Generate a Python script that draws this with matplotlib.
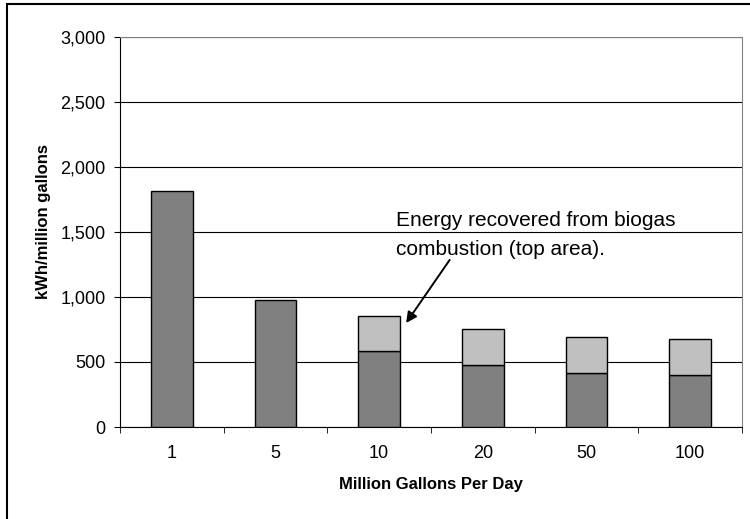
import numpy as np
import matplotlib.pyplot as plt

# Treatment plant size vs. electricity use
categories = ['1', '5', '10', '20', '50', '100']
net_use = [1815, 979, 585, 479, 413, 400]
recovered = [0, 0, 271, 272, 282, 275]

plt.rcParams['font.family'] = ['Liberation Sans', 'DejaVu Sans']

fig = plt.figure(figsize=(7.5, 5.19), dpi=100)
ax = fig.add_axes([120 / 750, 1 - 427 / 519, 622 / 750, 390 / 519])

x = np.arange(len(categories))
net_use = np.array(net_use)
recovered = np.array(recovered)
ax.bar(x, net_use, width=0.405, color='#808080', edgecolor='black', linewidth=1, zorder=3)
has_top = recovered > 0
ax.bar(x[has_top], recovered[has_top], bottom=net_use[has_top],
       width=0.405, color='#C0C0C0', edgecolor='black', linewidth=1, zorder=3)

ax.set_xlim(-0.5, len(categories) - 0.5)
ax.set_ylim(0, 3000)
yt = np.arange(0, 3001, 500)
ax.set_yticks(yt)
ax.set_yticklabels([f'{v:,}' for v in yt], fontsize=13)
ax.set_xticks(x)
ax.set_xticklabels(categories, fontsize=13)
ax.tick_params(axis='x', which='major', length=0, pad=13)
ax.set_xticks(np.arange(-0.5, len(categories), 1), minor=True)
ax.tick_params(axis='x', which='minor', length=4, direction='out', color='black')
ax.tick_params(axis='y', length=4, direction='out', color='black', pad=6.5)

ax.yaxis.grid(True, color='black', linewidth=0.8, zorder=0)
ax.spines['top'].set_color('#808080')
ax.spines['right'].set_color('#808080')
ax.spines['left'].set_color('black')
ax.spines['bottom'].set_color('black')

ax.set_ylabel('kWh/million gallons', fontsize=12, fontweight='bold')
ax.yaxis.set_label_coords(-0.111, 0.528)
ax.set_xlabel('Million Gallons Per Day', fontsize=12, fontweight='bold', labelpad=11)

# note text: the baseline of its last line sits at y
ax.text(2.162, 1323, 'Energy recovered from biogas\ncombustion (top area).',
        fontsize=15, va='baseline', ha='left', linespacing=1.65, zorder=4)
ax.annotate('', xy=(2.26, 800), xytext=(2.68, 1285),
            arrowprops=dict(arrowstyle='-|>', color='black', lw=1.4,
                            mutation_scale=16, shrinkA=0, shrinkB=0),
            zorder=4)

# outer chart frame
frame = plt.Rectangle((7 / 750, -0.1), 1.2, 1 - 4 / 519 + 0.1, transform=fig.transFigure,
                      fill=False, edgecolor='black', linewidth=1.5)
fig.patches.append(frame)

fig.savefig('out.png', dpi=100)
